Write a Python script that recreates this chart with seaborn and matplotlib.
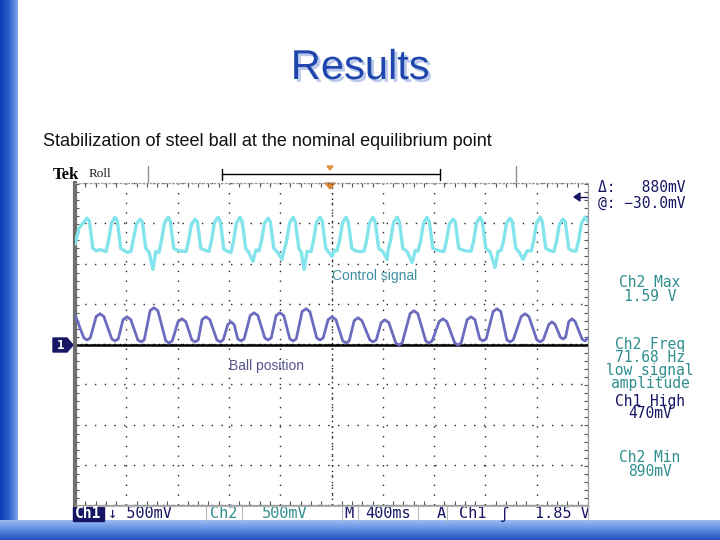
import numpy as np
import matplotlib
matplotlib.use("Agg")
import matplotlib.pyplot as plt
import matplotlib.patheffects as pe
import seaborn as sns
from matplotlib.colors import LinearSegmentedColormap
from matplotlib.patches import Polygon, Rectangle
from matplotlib.ticker import MultipleLocator

sns.set_theme(style="white")
plt.rcParams['font.family'] = ['Liberation Sans', 'DejaVu Sans']

# ---------------- data ----------------
# time in ms (400 ms/div, 10 div), voltage in mV (500 mV/div, ground at marker 1)
ball_t_ms = [0,
             69, 94, 119, 165, 195, 225, 287, 312, 337, 375, 405, 435,
             490, 515, 540, 586, 616, 646, 708, 733, 758, 804, 834, 864,
             911, 936, 961, 991, 1021, 1051, 1106, 1131, 1156, 1191, 1216, 1241,
             1269, 1294, 1319, 1366, 1396, 1426, 1480, 1505, 1530, 1568, 1598, 1628,
             1675, 1700, 1725, 1771, 1801, 1831, 1885, 1910, 1935, 1974, 2004, 2034,
             2088, 2113, 2138, 2177, 2207, 2237, 2299, 2324, 2349, 2387, 2417, 2447,
             2501, 2526, 2551, 2613, 2643, 2673, 2735, 2760, 2785, 2839, 2869, 2899,
             2961, 2986, 3011, 3058, 3088, 3118, 3156, 3181, 3206, 3260, 3290, 3320,
             3367, 3392, 3417, 3479, 3509, 3539, 3601, 3626, 3651, 3694, 3719, 3744,
             3785, 3805, 3825, 3850, 3875, 3900, 3955, 3977, 4000]
ball_mv = [375,
           87, 62, 87, 353, 388, 353, 75, 50, 75, 315, 350, 315,
           63, 38, 63, 427, 462, 427, 50, 25, 50, 290, 325, 290,
           63, 38, 63, 315, 350, 315, 63, 38, 63, 253, 288, 253,
           75, 50, 75, 365, 400, 365, 87, 62, 87, 365, 400, 365,
           75, 50, 75, 415, 450, 415, 87, 62, 87, 315, 350, 315,
           50, 25, 50, 303, 338, 303, 63, 38, 63, 277, 312, 277,
           25, 0, 25, 390, 425, 390, 50, 25, 50, 290, 325, 290,
           25, 0, 25, 315, 350, 315, 75, 50, 75, 415, 450, 415,
           63, 38, 63, 353, 388, 353, 63, 38, 63, 253, 288, 253,
           95, 75, 95, 290, 325, 290, 70, 50, 90]

control_t_ms = [0, 30, 66, 94, 112, 139, 165, 200,
                242, 262, 284, 312, 330, 357, 380, 410,
                437, 457, 479, 507, 525, 552, 578, 608, 630,
                655, 675, 697, 725, 743, 770, 800, 840,
                866, 886, 908, 936, 954, 981, 1010,
                1045, 1065, 1087, 1115, 1133, 1160, 1190,
                1216, 1236, 1258, 1286, 1304, 1331, 1355, 1388, 1410,
                1435, 1455, 1477, 1505, 1523, 1550, 1580, 1614,
                1630, 1650, 1672, 1700, 1718, 1745, 1765, 1786, 1810,
                1840, 1860, 1882, 1910, 1928, 1955, 1980, 2004, 2025,
                2043, 2063, 2085, 2113, 2131, 2158, 2185, 2222,
                2253, 2273, 2295, 2323, 2341, 2368, 2400, 2433,
                2441, 2461, 2483, 2511, 2529, 2556, 2590, 2628, 2655,
                2675, 2695, 2717, 2745, 2763, 2790, 2830,
                2877, 2897, 2919, 2947, 2965, 2992, 3040,
                3088, 3108, 3130, 3158, 3176, 3203, 3235, 3275, 3300,
                3322, 3342, 3364, 3392, 3410, 3437, 3465, 3493, 3525,
                3556, 3576, 3598, 3626, 3644, 3671, 3705,
                3735, 3755, 3777, 3805, 3823, 3850, 3875,
                3907, 3927, 3949, 3977, 3995, 4000]
control_mv = [1250, 1450, 1520, 1575, 1540, 1200, 1170, 1185,
              1160, 1300, 1510, 1588, 1540, 1200, 1175, 1150,
              1165, 1330, 1500, 1562, 1530, 1200, 1150, 938, 1160,
              1150, 1300, 1510, 1588, 1540, 1200, 1175, 1165,
              1160, 1300, 1500, 1562, 1530, 1200, 1180,
              1162, 1300, 1520, 1588, 1540, 1190, 1162,
              1150, 1290, 1510, 1588, 1530, 1200, 1150, 1038, 1180,
              1170, 1300, 1510, 1575, 1530, 1200, 1150, 1062,
              1175, 1290, 1510, 1588, 1530, 1200, 1150, 938, 1162,
              1160, 1300, 1520, 1588, 1540, 1200, 1150, 1100, 1180,
              1170, 1300, 1510, 1588, 1530, 1200, 1170, 1160,
              1165, 1290, 1510, 1588, 1530, 1200, 1160, 1062,
              1175, 1300, 1520, 1588, 1530, 1200, 1160, 1025, 1175,
              1165, 1290, 1510, 1588, 1530, 1200, 1175,
              1160, 1300, 1500, 1562, 1530, 1200, 1170,
              1165, 1290, 1510, 1588, 1530, 1200, 1160, 962, 1165,
              1175, 1300, 1510, 1575, 1530, 1200, 1150, 1062, 1170,
              1165, 1290, 1510, 1588, 1530, 1200, 1170,
              1162, 1290, 1500, 1562, 1530, 1200, 1170,
              1165, 1300, 1510, 1588, 1560, 1530]

title_text = "Results"
subtitle_text = "Stabilization of steel ball at the nominal equilibrium point"
label_control = "Control signal"
label_ball = "Ball position"
readout_top = ["\u0394:   880mV", "@: \u221230.0mV"]
readout_teal_1 = ["Ch2 Max", "1.59 V"]
readout_teal_2 = ["Ch2 Freq", "71.68 Hz", "low signal", "amplitude"]
readout_navy = ["Ch1 High", "470mV"]
readout_teal_3 = ["Ch2 Min", "890mV"]
status_items = ["\u2193 500mV", "Ch2", "500mV", "M", "400ms", "A", "Ch1", "\u0283", "1.85 V"]

# ---------------- figure ----------------
W, H = 720, 540
fig = plt.figure(figsize=(7.2, 5.4), dpi=100)
fig.patch.set_facecolor("white")

bg = fig.add_axes([0, 0, 1, 1])
bg.set_xlim(0, W)
bg.set_ylim(H, 0)
bg.axis("off")

# slide decorations
cmap_left = LinearSegmentedColormap.from_list("l", ["#0c3db4", "#2d5fcc", "#7fa6ea"])
bg.imshow(np.linspace(0, 1, 64)[None, :], extent=(0, 18, 540, 0), cmap=cmap_left, aspect="auto", zorder=1)
cmap_bot = LinearSegmentedColormap.from_list("b", ["#9bbcf2", "#5b8ae0", "#1e50c0"])
bg.imshow(np.linspace(0, 1, 64)[:, None], extent=(0, 720, 540, 520), cmap=cmap_bot, aspect="auto", zorder=1)

NAVY = "#161664"
TEAL = "#2f8e8e"
MONO = ["DejaVu Sans Mono"]

# title with shadow
bg.text(360, 68, title_text, fontsize=30, color="#1f46ad", ha="center", va="center", zorder=3,
        path_effects=[pe.withSimplePatchShadow(offset=(2, -2), shadow_rgbFace="#b9c9ea", alpha=1.0)])
bg.text(43, 142, subtitle_text, fontsize=13, color="#111111", ha="left", va="center", zorder=3)

# header of the scope
bg.text(53, 175, "Tek", fontsize=12, fontweight="bold", family=["Liberation Serif"], color="black", va="center", zorder=3)
bg.text(89, 174, "Roll", fontsize=9.5, family=["Liberation Serif"], color="#222222", va="center", zorder=3)
bg.plot([148, 148], [166, 183], color="#909090", lw=1, zorder=3)
bg.plot([516, 516], [166, 183], color="#909090", lw=1, zorder=3)
bg.plot([222, 440], [174, 174], color="black", lw=1, zorder=3)
bg.plot([222, 222], [169, 180], color="black", lw=1, zorder=3)
bg.plot([440, 440], [169, 180], color="black", lw=1, zorder=3)
bg.add_patch(Polygon([(327, 166), (333, 166), (330, 170)], closed=True, color="#e09040", zorder=3))
bg.add_patch(Polygon([(325, 183), (335, 183), (330, 189)], closed=True, color="#e08a30", zorder=6))

# trigger level arrow on right
bg.add_patch(Polygon([(574, 197), (580, 193), (580, 201)], closed=True, color=NAVY, zorder=3))
bg.plot([580, 588], [197, 197], color=NAVY, lw=1, zorder=3)

# channel 1 marker
bg.add_patch(Polygon([(53, 338), (67, 338), (73, 345), (67, 352), (53, 352)], closed=True, color=NAVY, zorder=3))
bg.text(61, 345.5, "1", fontsize=9, fontweight="bold", color="white", ha="center", va="center", family=MONO, zorder=4)

# right readouts (one text block each)
RO = dict(fontsize=10.5, family=MONO, va="center", zorder=3)
bg.text(598, 195.5, "\n".join(readout_top), color=NAVY, ha="left", linespacing=1.03, **RO)
bg.text(650, 289.5, "\n".join(readout_teal_1), color=TEAL, ha="center", multialignment="center", linespacing=0.97, **RO)
bg.text(650, 364, "\n".join(readout_teal_2), color=TEAL, ha="center", multialignment="center", linespacing=0.85, **RO)
bg.text(650, 407.5, "\n".join(readout_navy), color=NAVY, ha="center", multialignment="center", linespacing=0.8, **RO)
bg.text(650, 464.5, "\n".join(readout_teal_3), color=TEAL, ha="center", multialignment="center", linespacing=0.97, **RO)

# status bar
bg.add_patch(Rectangle((73, 507), 31, 14, color=NAVY, zorder=3))
bg.text(88, 514, "Ch1", fontsize=10.5, fontweight="bold", color="white", family=MONO, ha="center", va="center", zorder=4)
status_x = [108, 224, 285, 349, 388, 441, 473, 504, 562]
status_ha = ["left", "center", "center", "center", "center", "center", "center", "center", "center"]
status_col = [NAVY, TEAL, TEAL, NAVY, NAVY, NAVY, NAVY, NAVY, NAVY]
for s, x, ha, c in zip(status_items, status_x, status_ha, status_col):
    bg.text(x, 514, s, fontsize=11, color=c, family=MONO, ha=ha, va="center", zorder=3)
for x in [206, 242, 342, 358, 418, 447, 588]:
    bg.plot([x, x], [506, 521], color="#b8b8b8", lw=0.8, zorder=3)
bg.plot([74, 588], [506, 506], color="#b8b8b8", lw=0.8, zorder=3)

# in-screen labels
bg.text(332, 276, label_control, fontsize=10, color="#3d8ea0", ha="left", va="center", zorder=3)
bg.text(229, 366, label_ball, fontsize=10, color="#55558c", ha="left", va="center", zorder=3)

# ---------------- oscilloscope screen ----------------
x0, x1, ytop, ybot = 75, 588, 183, 505
ax = fig.add_axes([x0 / W, 1 - ybot / H, (x1 - x0) / W, (ybot - ytop) / H])
ax.patch.set_alpha(0)
ylo, yhi = -1988, 2012
ax.set_xlim(0, 4000)
ax.set_ylim(ylo, yhi)

ax.set_xticks(np.linspace(0, 4000, 11))
ax.set_yticks(np.linspace(ylo, yhi, 9))
ax.xaxis.set_minor_locator(MultipleLocator(80))
ax.yaxis.set_minor_locator(MultipleLocator(100))
ax.set_xticklabels([])
ax.set_yticklabels([])
ax.tick_params(which="major", length=0)
ax.tick_params(which="minor", direction="in", length=3, width=0.8, color="#555555",
               top=True, right=True, bottom=True, left=True)
ax.grid(True, which="major", color="#222222", linestyle=(0, (1, 6)), lw=1.0)
ax.axvline(2000, color="#222222", ls=(0, (1, 3)), lw=1.0, zorder=1)
ax.axhline((ylo + yhi) / 2, color="#222222", ls=(0, (1, 3)), lw=1.0, zorder=1)

for side in ["top", "right", "bottom"]:
    ax.spines[side].set_color("#9a9a9a")
    ax.spines[side].set_linewidth(0.9)
ax.spines["top"].set_linestyle((0, (1, 2)))
ax.spines["left"].set_color("#6e6e6e")
ax.spines["left"].set_linewidth(3)

# ch1 ground line
ax.axhline(0, color="black", lw=1.8, zorder=2)

sns.lineplot(x=control_t_ms, y=control_mv, ax=ax, color="#84e4ec", lw=2.4, zorder=3, sort=False)
sns.lineplot(x=ball_t_ms, y=ball_mv, ax=ax, color="#6c6cbf", lw=2.0, zorder=4, sort=False)
ax.set_xlabel("")
ax.set_ylabel("")

fig.savefig("out.png", dpi=100)
